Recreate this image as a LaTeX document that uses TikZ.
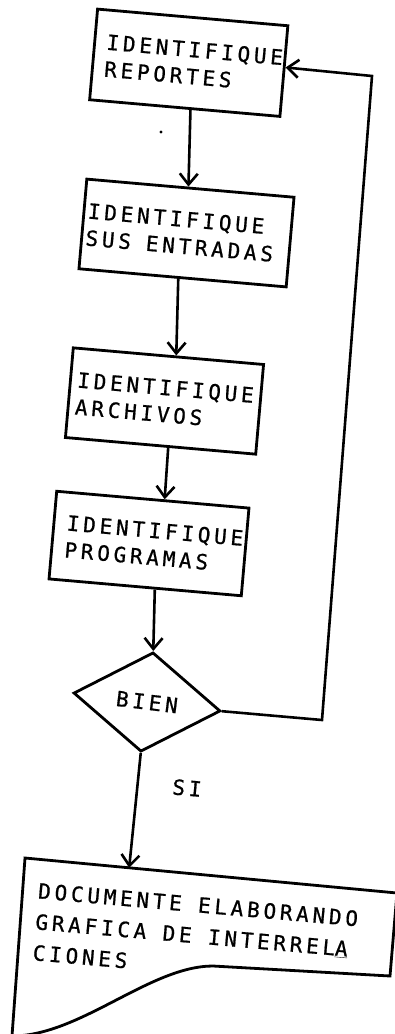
\documentclass[tikz,border=0pt]{standalone}
\usepackage{fontspec}
\newfontfamily\plotfont[LetterSpace=18,FakeBold=0.8]{DejaVu Sans Mono}
\usetikzlibrary{shapes.geometric,arrows.meta,calc}

\begin{document}
\begin{tikzpicture}[x=1pt,y=-1pt,
  line width=2.6pt, line join=miter,
  every node/.style={font=\plotfont\fontsize{21}{27}\selectfont},
  procbox/.style={draw, rectangle, rotate=-5, align=left, inner ysep=0pt, line width=2.8pt},
  decision/.style={draw, diamond, rotate=-7, inner sep=0pt, minimum width=148, minimum height=100, line width=2.8pt},
  flow/.style={-{Straight Barb[length=11pt,width=18pt]}},
  note/.style={rotate=-5, inner sep=0pt}
]
% page
\fill[white] (0,0) rectangle (394,1034);
\useasboundingbox (0,0) rectangle (394,1034);

% process steps
\node[procbox, minimum width=191, minimum height=91, text width=167, inner xsep=12] (b1) at (188.75,62.75) {IDENTIFIQUE\\REPORTES};
\node[procbox, minimum width=208, minimum height=90, text width=200, inner xsep=4] (b2) at (186.5,233) {IDENTIFIQUE\\SUS\hspace{15pt}ENTRADAS};
\node[procbox, minimum width=191, minimum height=90, text width=177, inner xsep=7] (b3) at (164.5,401) {IDENTIFIQUE\\ARCHIVOS};
\node[procbox, minimum width=193, minimum height=88, text width=167, inner xsep=13] (b4) at (149,543.5) {IDENTIFIQUE\\PROGRAMAS};

% decision
\node[decision] (ok) at (147,702) {BIEN};

% document symbol
\coordinate (dTL) at (25,858);
\coordinate (dTR) at (397,893);
\coordinate (dBR) at (390,976);
\coordinate (dW) at (213,966);
\coordinate (dBL) at (12,1036);
\draw[line width=2.8pt] (dTL) -- (dTR) -- (dBR) -- (dW) .. controls (150,966) and (80,1036) .. (dBL) -- cycle;
\coordinate (dtop) at ($(dTL)!0.28!(dTR)$);
% the base anchor of this node sits on its last line
\node[note, anchor=base west, align=left, font=\plotfont\fontsize{21}{31}\selectfont] (doctext) at (31,960)
  {DOCUMENTE ELABORANDO\\GRAFICA DE INTERREL\underline{A}\\CIONES};

% labels
\node[note] (si) at (187,788) {SI};
\fill (161,132) circle[radius=1.6pt];

% connectors
\coordinate (l1) at (322,720);
\coordinate (l2) at (372,76);
\draw[flow] ($(b1.south west)!0.53!(b1.south east)$) -- ($(b2.north west)!0.49!(b2.north east)$);
\draw[flow] ($(b2.south west)!0.48!(b2.south east)$) -- ($(b3.north west)!0.54!(b3.north east)$);
\draw[flow] ($(b3.south west)!0.54!(b3.south east)$) -- ($(b4.north west)!0.56!(b4.north east)$);
\draw[flow] ($(b4.south west)!0.55!(b4.south east)$) -- (ok.north);
\draw[flow] (ok.south) -- (dtop);
\draw[flow] (ok.east) -- (l1) -- (l2) -- ($(b1.north east)!0.46!(b1.south east)$);
\end{tikzpicture}
\end{document}
